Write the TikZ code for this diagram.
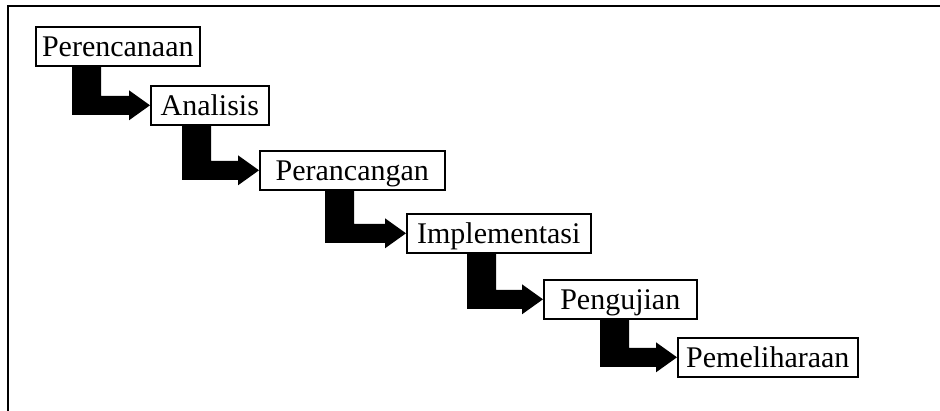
\documentclass[tikz,border=0pt]{standalone}
\usepackage{fontspec}
\setmainfont{Liberation Serif}
\usetikzlibrary{calc}

\tikzset{
  phase/.style={draw, line width=1.6pt, fill=white, minimum height=39pt,
    inner sep=0pt, text height=21pt, text depth=0pt, anchor=north west,
    font=\fontsize{30}{36}\selectfont},
}
% elbow arrow: from box, to box, bar offset from left of box
\newcommand\stepArrow[3]{%
  \fill ($(#1.south west)+(#3,0)$) -- ++(29,0) |- ($(#2.west)+(-21,-9.5)$)
    -- ++(0,-5.5) -- (#2.west) -- ++(-21,15) -- ++(0,-5.5)
    -| ($(#1.south west)+(#3,0)$) -- cycle;}

\begin{document}
\begin{tikzpicture}[x=1pt, y=-1pt]
    \useasboundingbox (0,0) rectangle (940,411);
    \draw[line width=2pt](940,6)--(8,6)--(8,411);

    \node[phase, minimum width=164pt](plan) at (35,26) {Perencanaan};
    \node[phase, minimum width=118pt](anal) at (150,85) {Analisis};
    \node[phase, minimum width=185pt](desn) at (259,150) {Perancangan};
    \node[phase, minimum width=184pt](impl) at (406,213) {Implementasi};
    \node[phase, minimum width=153pt](test) at (543,279) {Pengujian};
    \node[phase, minimum width=180pt](main) at (677,337) {Pemeliharaan};

    \stepArrow{plan}{anal}{37}
    \stepArrow{anal}{desn}{32}
    \stepArrow{desn}{impl}{66}
    \stepArrow{impl}{test}{61}
    \stepArrow{test}{main}{57}
\end{tikzpicture}
\end{document}
